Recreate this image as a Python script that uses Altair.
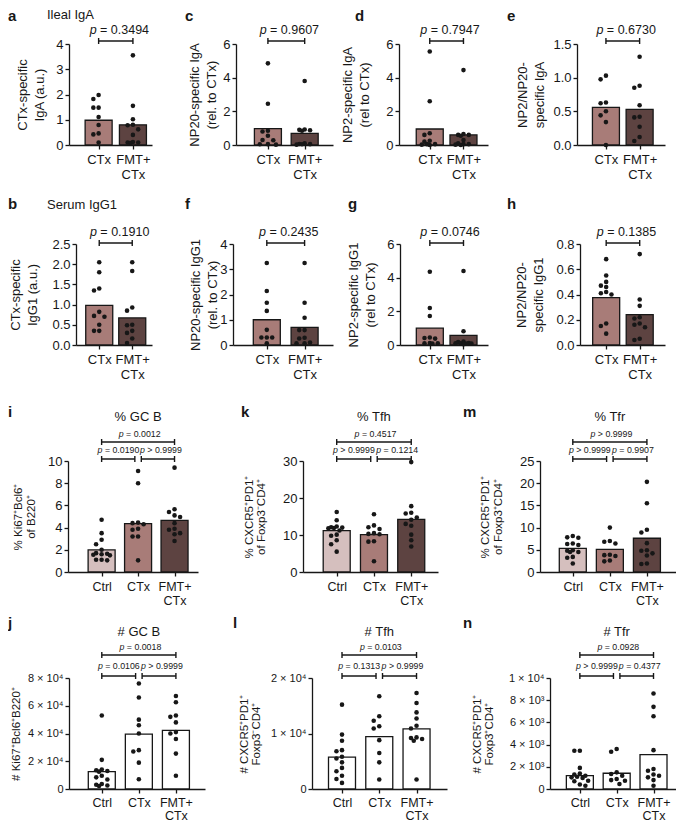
import altair as alt
import pandas as pd

FONT = "Liberation Sans"
INK = "#171717"

G2 = ["CTx", "FMT+CTx"]
G3 = ["Ctrl", "CTx", "FMT+CTx"]

# ---------------- data ----------------
a_bars = [0.98, 0.80]
a_ctx = [1.98, 1.82, 1.48, 1.48, 1.11, 0.79, 0.46, 0.42, 0.10]
a_fmt = [3.55, 1.55, 1.02, 0.80, 0.78, 0.62, 0.40, 0.12, 0.10, 0.10, 0.08]
a_p = ["p = 0.3494"]

c_bars = [0.97, 0.69]
c_ctx = [4.85, 2.45, 0.85, 0.80, 0.55, 0.30, 0.28, 0.05, 0.04, 0.02]
c_fmt = [3.80, 0.92, 0.90, 0.88, 0.85, 0.10, 0.06, 0.05, 0.04, 0.02]
c_p = ["p = 0.9607"]

d_bars = [0.95, 0.60]
d_ctx = [5.55, 2.60, 0.70, 0.60, 0.25, 0.20, 0.05, 0.02, 0.00, 0.05]
d_fmt = [4.45, 0.65, 0.60, 0.60, 0.55, 0.30, 0.10, 0.05, 0.05, 0.02, 0.00]
d_p = ["p = 0.7947"]

e_bars = [0.56, 0.53]
e_ctx = [1.03, 0.975, 0.63, 0.62, 0.50, 0.44, 0.34, 0.00]
e_fmt = [1.31, 0.88, 0.85, 0.59, 0.42, 0.41, 0.27, 0.12, 0.06]
e_p = ["p = 0.6730"]

b_bars = [0.98, 0.67]
b_ctx = [2.05, 1.80, 1.40, 1.35, 0.82, 0.72, 0.70, 0.50, 0.35, 0.35]
b_fmt = [2.05, 1.83, 0.93, 0.85, 0.50, 0.49, 0.35, 0.30, 0.16, 0.05]
b_p = ["p = 0.1910"]

f_bars = [1.00, 0.70]
f_ctx = [3.25, 2.14, 1.67, 1.35, 0.60, 0.30, 0.30, 0.30, 0.07]
f_fmt = [3.25, 1.67, 1.08, 0.59, 0.59, 0.29, 0.26, 0.10, 0.07, 0.07]
f_p = ["p = 0.2435"]

g_bars = [1.00, 0.57]
g_ctx = [4.35, 2.20, 1.72, 0.45, 0.42, 0.38, 0.12, 0.10, 0.08, 0.10]
g_fmt = [4.40, 0.82, 0.20, 0.18, 0.12, 0.10, 0.08, 0.08, 0.10, 0.05]
g_p = ["p = 0.0746"]

h_bars = [0.375, 0.24]
h_ctx = [0.68, 0.55, 0.50, 0.47, 0.46, 0.42, 0.41, 0.40, 0.17, 0.15, 0.09]
h_fmt = [0.72, 0.36, 0.31, 0.22, 0.21, 0.17, 0.16, 0.14, 0.05, 0.04]
h_p = ["p = 0.1385"]

i_bars = [2.0, 4.35, 4.65]
i_ctrl = [4.7, 3.5, 2.9, 2.5, 2.0, 1.7, 1.65, 1.6, 1.55, 1.5, 1.1, 1.05, 1.1]
i_ctx = [9.1, 8.0, 4.45, 4.4, 4.3, 3.9, 3.8, 3.2, 3.2, 1.05]
i_fmt = [9.4, 5.65, 5.4, 5.1, 4.95, 4.4, 3.9, 3.8, 3.5, 3.4, 2.8]
i_p = ["p = 0.0012", "p = 0.0190", "p > 0.9999"]

k_bars = [11.2, 10.1, 14.2]
k_ctrl = [16.2, 14.0, 12.3, 12.1, 12.0, 11.9, 11.8, 11.2, 10.1, 9.8, 8.6, 7.5, 5.5]
k_ctx = [15.6, 12.6, 12.1, 11.6, 10.5, 10.3, 10.2, 8.3, 8.2, 2.9]
k_fmt = [29.7, 17.8, 16.0, 15.8, 14.7, 14.1, 13.0, 12.5, 10.1, 8.6, 6.9]
k_p = ["p = 0.4517", "p > 0.9999", "p = 0.1214"]

m_bars = [5.3, 5.1, 7.6]
m_ctrl = [8.1, 7.8, 7.7, 6.4, 6.3, 6.1, 4.9, 4.8, 4.5, 4.5, 3.4, 3.2, 1.9]
m_ctx = [10.0, 7.0, 6.8, 6.4, 3.9, 3.8, 3.6, 2.6, 2.4]
m_fmt = [20.3, 15.5, 9.5, 8.9, 6.5, 4.9, 4.8, 4.2, 3.7, 1.9, 1.8]
m_p = ["p > 0.9999", "p > 0.9999", "p = 0.9907"]

j_bars = [12500, 39500, 42200]
j_ctrl = [53000, 21000, 14000, 13500, 13000, 12500, 9600, 8400, 6800, 3600, 3100, 2500, 2200]
j_ctx = [76000, 66000, 50000, 46000, 40000, 28000, 27000, 19000, 7000]
j_fmt = [67000, 62500, 53000, 52000, 48000, 41000, 40000, 36000, 25500, 9500]
j_p = ["p = 0.0018", "p = 0.0106", "p > 0.9999"]

l_bars = [5760, 9450, 10850]
l_ctrl = [15200, 9800, 8700, 7000, 6800, 5800, 5500, 4800, 3800, 3200, 2400, 1800, 1100]
l_ctx = [16700, 13100, 12300, 11300, 10900, 8800, 6500, 4800, 1700]
l_fmt = [17300, 15500, 13800, 12700, 11400, 10900, 9300, 9200, 9000, 8700, 1700]
l_p = ["p = 0.0103", "p = 0.1313", "p > 0.9999"]

n_bars = [1200, 1420, 3100]
n_ctrl = [3450, 3450, 1900, 1400, 1300, 1200, 1100, 1050, 1000, 750, 700, 400, 300]
n_ctx = [3600, 3350, 1500, 1350, 1200, 900, 800, 750, 450]
n_fmt = [8600, 7400, 6550, 3500, 1800, 1650, 1300, 1200, 1050, 800, 300]
n_p = ["p = 0.0928", "p > 0.9999", "p = 0.4377"]

# ---------------- styling / layout ----------------
COLORS = {"Ctrl": "#d5bfbe", "CTx": "#a87c78", "FMT+CTx": "#5d4341"}
WHITE = {"Ctrl": "#ffffff", "CTx": "#ffffff", "FMT+CTx": "#ffffff"}

EXP4 = "datum.value == 0 ? '0' : format(datum.value / 10000, 'd') + ' × 10⁴'"
EXP34 = ("datum.value == 0 ? '0' : (datum.value >= 10000 ? format(datum.value / 10000, 'd') + ' × 10⁴' "
         ": format(datum.value / 1000, 'd') + ' × 10³')")

# top = page y of plot top; A/B = reserved space above/below the plot for the row
ROWS = {
    1: dict(top=44, H=101, A=36, B=42, ylab=13, ytit=13, ytlh=17, xlab=13, xlh=15, xpad=4, pfs=12.5,
            levels=[-3], ptext=[-14], title_y=None, letter_y=-35, letter_base="top",
            note_y=-35, note_base="top", palette=COLORS),
    2: dict(top=244, H=101, A=57, B=42, ylab=13, ytit=13, ytlh=17, xlab=13, xlh=15, xpad=4, pfs=12.5,
            levels=[-1], ptext=[-12], title_y=None, letter_y=-40, letter_base="middle",
            note_y=-39, note_base="middle", palette=COLORS),
    3: dict(top=461, H=111, A=74, B=42, ylab=13, ytit=11.5, ytlh=12.5, xlab=12.5, xlh=14, xpad=4, pfs=8.8,
            levels=[-19, -2], ptext=[-27, -11], title_y=-44, letter_y=-49,
            letter_base="middle", palette=COLORS),
    4: dict(top=678, H=111, A=64, B=36, ylab=11, ytit=11.5, ytlh=12.5, xlab=12.5, xlh=13, xpad=3, pfs=8.8,
            levels=[-23, -2], ptext=[-31, -12], title_y=-46, letter_y=-55,
            letter_base="middle", palette=WHITE),
}

PANELS = {
    "a": dict(row=1, axis=69, centers=[97, 136], end=152, lx=8, ymax=4, yticks=[0, 1, 2, 3, 4], fmt="d",
              ytitle=["CTx-specific", "IgA (a.u.)"], tx=31, bars=a_bars, pts=[a_ctx, a_fmt], p=a_p,
              groups=G2, note="Ileal IgA"),
    "c": dict(row=1, axis=236, centers=[266, 307], end=333, lx=185, ymax=6, yticks=[0, 2, 4, 6], fmt="d",
              ytitle=["NP20-specific IgA", "(rel. to CTx)"], tx=202.5, bars=c_bars, pts=[c_ctx, c_fmt],
              p=c_p, groups=G2),
    "d": dict(row=1, axis=399, centers=[428, 466], end=488, lx=355, ymax=6, yticks=[0, 2, 4, 6], fmt="d",
              ytitle=["NP2-specific IgA", "(rel to CTx)"], tx=355.5, bars=d_bars, pts=[d_ctx, d_fmt],
              p=d_p, groups=G2),
    "e": dict(row=1, axis=577, centers=[604, 642], end=665, lx=507, ymax=1.5, yticks=[0, 0.5, 1.0, 1.5],
              fmt=".1f", ytitle=["NP2/NP20-", "specific IgA"], tx=530.5, bars=e_bars, pts=[e_ctx, e_fmt],
              p=e_p, groups=G2),
    "b": dict(row=2, axis=76, centers=[97, 135], end=152, lx=8, ymax=2.5,
              yticks=[0, 0.5, 1.0, 1.5, 2.0, 2.5], fmt=".1f", ytitle=["CTx-specific", "IgG1 (a.u.)"],
              tx=24, bars=b_bars, pts=[b_ctx, b_fmt], p=b_p, groups=G2, note="Serum IgG1"),
    "f": dict(row=2, axis=233, centers=[265, 307], end=333, lx=185, ymax=4, yticks=[0, 1, 2, 3, 4], fmt="d",
              ytitle=["NP20-specific IgG1", "(rel. to CTx)"], tx=203.5, bars=f_bars, pts=[f_ctx, f_fmt],
              p=f_p, groups=G2),
    "g": dict(row=2, axis=400, centers=[428, 466], end=488, lx=348, ymax=6, yticks=[0, 2, 4, 6], fmt="d",
              ytitle=["NP2-specific IgG1", "(rel to CTx)"], tx=362, bars=g_bars, pts=[g_ctx, g_fmt],
              p=g_p, groups=G2),
    "h": dict(row=2, axis=580, centers=[604, 642], end=665, lx=507, ymax=0.8,
              yticks=[0, 0.2, 0.4, 0.6, 0.8], fmt=".1f", ytitle=["NP2/NP20-", "specific IgG1"], tx=530,
              bars=h_bars, pts=[h_ctx, h_fmt], p=h_p, groups=G2),
    "i": dict(row=3, axis=68, centers=[99, 138, 178], end=198, lx=8, ymax=10,
              yticks=[0, 2, 4, 6, 8, 10], fmt="d", ytitle=["% Ki67⁺Bcl6⁺", "of B220⁺"], tx=25,
              bars=i_bars, pts=[i_ctrl, i_ctx, i_fmt], p=i_p, groups=G3, title="% GC B"),
    "k": dict(row=3, axis=303, centers=[334, 374.5, 414.5], end=438, lx=241, ymax=30,
              yticks=[0, 10, 20, 30], fmt="d", ytitle=["% CXCR5⁺PD1⁺", "of Foxp3⁻CD4⁺"], tx=255.5,
              bars=k_bars, pts=[k_ctrl, k_ctx, k_fmt], p=k_p, groups=G3, title="% Tfh"),
    "m": dict(row=3, axis=540, centers=[570, 610, 650], end=676, lx=463, ymax=25,
              yticks=[0, 5, 10, 15, 20, 25], fmt="d", ytitle=["% CXCR5⁺PD1⁺", "of Foxp3⁺CD4⁺"], tx=492,
              bars=m_bars, pts=[m_ctrl, m_ctx, m_fmt], p=m_p, groups=G3, title="% Tfr"),
    "j": dict(row=4, axis=69, centers=[99, 138, 179], end=205, lx=8, ymax=80000,
              yticks=[0, 20000, 40000, 60000, 80000], expr=EXP4, ytitle="# Ki67⁺Bcl6⁺B220⁺", tx=16,
              bars=j_bars, pts=[j_ctrl, j_ctx, j_fmt], p=j_p, groups=G3, title="# GC B"),
    "l": dict(row=4, axis=312, centers=[339, 379, 419.5], end=447, lx=233, ymax=20000,
              yticks=[0, 10000, 20000], expr=EXP4, ytitle=["# CXCR5⁺PD1⁺", "Foxp3⁻CD4⁺"], tx=250.5,
              bars=l_bars, pts=[l_ctrl, l_ctx, l_fmt], p=l_p, groups=G3, title="# Tfh"),
    "n": dict(row=4, axis=550, centers=[577, 617, 657], end=676, lx=463, ymax=10000,
              yticks=[0, 2000, 4000, 6000, 8000, 10000], expr=EXP34, ytitle=["# CXCR5⁺PD1⁺", "Foxp3⁺CD4⁺"],
              tx=483.5, bars=n_bars, pts=[n_ctrl, n_ctx, n_fmt], p=n_p, groups=G3, title="# Tfr"),
}

ADV = {"p": .556, " ": .278, "=": .584, ">": .584, ".": .278}


def tw(s, fs):
    return sum(ADV.get(ch, .556) for ch in s) * fs


def swarm(vals, ppu, cands=(0, -6, 6, -3, 3, -9, 9), r=5.0):
    order = sorted(range(len(vals)), key=lambda i: -vals[i])
    placed, offs = [], [0] * len(vals)
    for i in order:
        y = vals[i] * ppu
        best, bestd = 0, -1
        for c in cands:
            d = min([((c - px) ** 2 + (y - py) ** 2) ** 0.5 for px, py in placed], default=99)
            if d >= r:
                best = c
                break
            if d > bestd:
                bestd, best = d, c
        offs[i] = best
        placed.append((best, y))
    return offs


def label_js(gname):
    if "+" in gname and not gname.endswith("+"):
        first, second = gname.split("+", 1)
        return "['%s+', '%s']" % (first, second)
    return "'%s'" % gname


def build_panel(key):
    P = PANELS[key]
    R = ROWS[P["row"]]
    H = R["H"]
    groups = P["groups"]
    n = len(groups)
    c = P["centers"]
    step = (c[-1] - c[0]) / (n - 1)
    W = P["end"] - P["axis"]
    lo = 1 - (c[0] - P["axis"]) / step
    hi = n + (P["end"] - c[-1]) / step
    xs = alt.Scale(domain=[lo, hi], nice=False, zero=False)
    ys = alt.Scale(domain=[0, P["ymax"]], nice=False, zero=True)

    expr = ""
    for gi, gname in enumerate(groups[:-1]):
        expr += "datum.value == %d ? %s : " % (gi + 1, label_js(gname))
    expr += label_js(groups[-1])
    xa = alt.Axis(values=list(range(1, n + 1)), labelExpr=expr, title=None, grid=False,
                  domainColor=INK, domainWidth=1.3, tickColor=INK, tickWidth=1.3, tickSize=4,
                  labelFont=FONT, labelFontSize=R["xlab"], labelColor=INK, labelPadding=R["xpad"],
                  labelLineHeight=R["xlh"], labelFlush=False, labelOverlap=False, labelAngle=0)
    # multi-line rotated titles grow to the right from their first line
    nlines = len(P["ytitle"]) if isinstance(P["ytitle"], list) else 1
    title_x = P["tx"] - (nlines - 1) * R["ytlh"] / 2 - P["axis"]
    ykw = dict(values=P["yticks"], title=P["ytitle"], grid=False, domainColor=INK, domainWidth=1.3,
               tickColor=INK, tickWidth=1.3, tickSize=4, labelFont=FONT, labelFontSize=R["ylab"],
               labelColor=INK, labelPadding=2, labelOverlap=False, labelFlush=False,
               titleFont=FONT, titleFontSize=R["ytit"], titleFontWeight="normal", titleColor=INK,
               titleAngle=270, titleX=title_x, titleY=H / 2, titleAlign="center",
               titleBaseline="middle", titleLineHeight=R["ytlh"])
    if "expr" in P:
        ykw["labelExpr"] = P["expr"]
    else:
        ykw["format"] = P["fmt"]
    ya = alt.Axis(**ykw)

    def X(f):
        return alt.X(f, type="quantitative", scale=xs, axis=xa)

    def Y(f):
        return alt.Y(f, type="quantitative", scale=ys, axis=ya)

    pal = R["palette"]
    bar_df = pd.DataFrame({"x": list(range(1, n + 1)), "v": P["bars"], "g": groups})
    bar_df["col"] = [pal[g] for g in groups]
    bars = alt.Chart(bar_df).mark_bar(size=27, stroke=INK, strokeWidth=1.3, orient="vertical").encode(
        x=X("x"), y=Y("v"), fill=alt.Fill("col:N", scale=None, legend=None))

    ppu = H / P["ymax"]
    prow = []
    for gi, vals in enumerate(P["pts"]):
        offs = swarm(vals, ppu)
        for v, o in zip(vals, offs):
            prow.append({"x": gi + 1 + o / step, "v": v})
    pts = alt.Chart(pd.DataFrame(prow)).mark_circle(size=21, color=INK, opacity=1).encode(
        x=X("x"), y=Y("v"))

    layers = [bars, pts]

    # (from group, to group, px offset at start, px offset at end, level, text, text nudge px)
    if n == 2:
        brs = [(1, 2, 0, 0, 0, P["p"][0], 0)]
    else:
        brs = [(1, 3, 0, 0, 0, P["p"][0], 0),
               (1, 2, 0, -3.5, 1, P["p"][1], -1.5),
               (2, 3, 3.5, 0, 1, P["p"][2], 1.5)]
    fs = R["pfs"]
    for lvl_i, L in enumerate(R["levels"]):
        sel = [b for b in brs if b[4] == lvl_i]
        if not sel:
            continue
        rdf = pd.DataFrame({"x1": [b[0] + b[2] / step for b in sel],
                            "x2": [b[1] + b[3] / step for b in sel]})
        layers.append(alt.Chart(rdf).mark_rule(color=INK, strokeWidth=1.4).encode(
            x=X("x1"), x2=alt.X2("x2"), y=alt.value(L)))
        ends = pd.DataFrame({"x": list(rdf["x1"]) + list(rdf["x2"])})
        layers.append(alt.Chart(ends).mark_rule(color=INK, strokeWidth=1.4).encode(
            x=X("x"), y=alt.value(L - 3), y2=alt.value(L + 3)))
        tdf = pd.DataFrame({
            "x": [(x1 + x2) / 2 + (b[6] - tw(b[5], fs) / 2) / step
                  for b, x1, x2 in zip(sel, rdf["x1"], rdf["x2"])],
            "p": [b[5][0] for b in sel],
            "rest": [b[5][2:] for b in sel],
        })
        ty = R["ptext"][lvl_i]
        layers.append(alt.Chart(tdf).mark_text(font=FONT, fontSize=fs, fontStyle="italic", color=INK,
                                               align="left", baseline="middle").encode(
            x=X("x"), y=alt.value(ty), text="p:N"))
        layers.append(alt.Chart(tdf).mark_text(font=FONT, fontSize=fs, color=INK, align="left",
                                               baseline="middle", dx=tw("p ", fs)).encode(
            x=X("x"), y=alt.value(ty), text="rest:N"))

    if P.get("title"):
        tdf = pd.DataFrame({"x": [2], "t": [P["title"]]})
        layers.append(alt.Chart(tdf).mark_text(font=FONT, fontSize=13, color=INK, align="center",
                                               baseline="middle").encode(
            x=X("x"), y=alt.value(R["title_y"]), text="t:N"))

    ldf = pd.DataFrame({"t": [key]})
    layers.append(alt.Chart(ldf).mark_text(font=FONT, fontSize=15, fontWeight="bold", color=INK,
                                           align="left", baseline=R["letter_base"]).encode(
        x=alt.value(P["lx"] - P["axis"]), y=alt.value(R["letter_y"]), text="t:N"))
    if P.get("note"):
        ndf = pd.DataFrame({"t": [P["note"]]})
        layers.append(alt.Chart(ndf).mark_text(font=FONT, fontSize=13, color=INK, align="left",
                                               baseline=R["note_base"]).encode(
            x=alt.value(47 - P["axis"]), y=alt.value(R["note_y"]), text="t:N"))

    return alt.layer(*layers).properties(width=W, height=H)


def spacer(w, h):
    return alt.Chart(pd.DataFrame({"z": [0]})).mark_point(opacity=0, size=1).encode(
        x=alt.value(w / 2), y=alt.value(h / 2)).properties(width=max(1, w), height=h)


def lead(w, R):
    # invisible guide that fixes the vertical extent reserved for the row
    return alt.Chart(pd.DataFrame({"z": [0]})).mark_rule(opacity=0, strokeWidth=1).encode(
        x=alt.value(1), y=alt.value(-R["A"]), y2=alt.value(R["H"] + R["B"])).properties(
        width=w, height=R["H"])


LAYOUT = [["a", "c", "d", "e"], ["b", "f", "g", "h"], ["i", "k", "m"], ["j", "l", "n"]]
row_charts = []
for keys in LAYOUT:
    R = ROWS[PANELS[keys[0]]["row"]]
    rc = [lead(PANELS[keys[0]]["axis"] - 8, R)]
    for k, key in enumerate(keys):
        if k > 0:
            rc.append(spacer(PANELS[key]["axis"] - PANELS[keys[k - 1]]["end"], R["H"]))
        rc.append(build_panel(key))
    row_charts.append(alt.hconcat(*rc, spacing=0, bounds="flush"))

chart = alt.vconcat(*row_charts, spacing=0).properties(padding=0).configure_view(stroke=None)

chart.save("out.html", embed_options={"renderer": "svg", "actions": False})
